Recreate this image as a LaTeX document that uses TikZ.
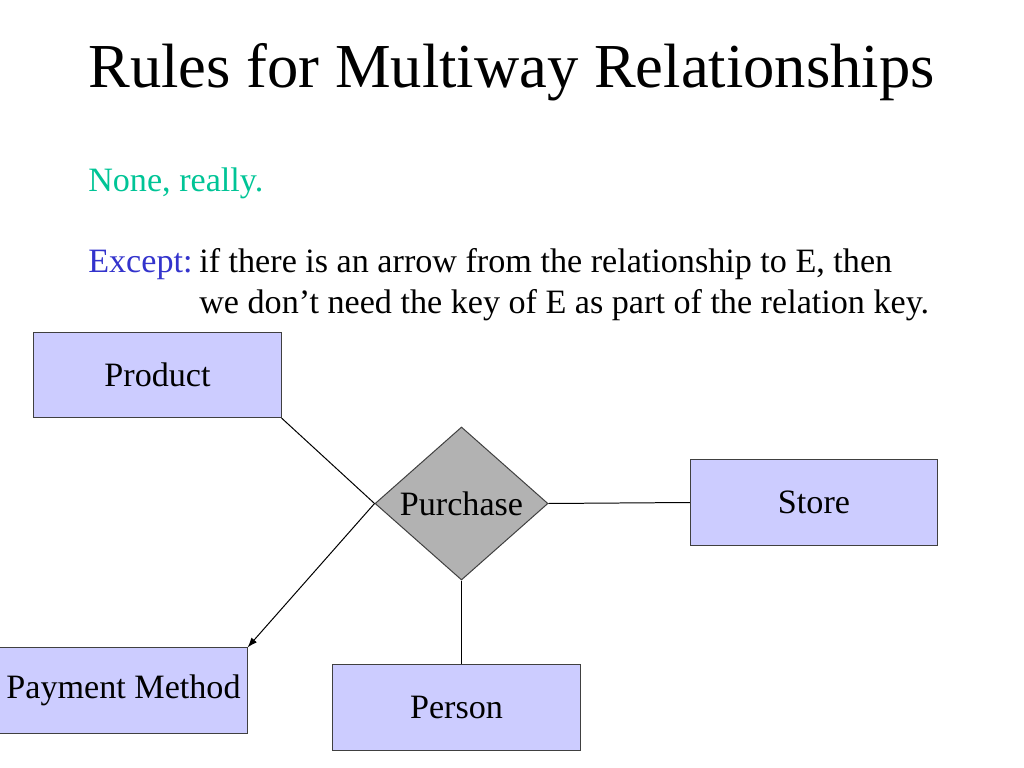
\documentclass[tikz,border=0pt]{standalone}
\usepackage{fontspec}
\setmainfont{Liberation Serif}
\usepackage{tikz}
\usetikzlibrary{shapes.geometric, arrows, arrows.meta, positioning, calc}
\definecolor{entityfill}{RGB}{204,204,255}
\definecolor{relfill}{RGB}{178,178,178}
\definecolor{nonegreen}{RGB}{0,196,150}
\definecolor{exceptblue}{RGB}{51,51,204}
\begin{document}
\begin{tikzpicture}[
    x=0.703125pt, y=-0.703125pt,
    entity/.style={rectangle, draw=black!75, line width=0.7pt, fill=entityfill, minimum width=173.7pt, minimum height=59.8pt, inner sep=0pt, font=\fontsize{24}{28}\selectfont},
    relation/.style={diamond, aspect=1.13, draw=black!75, line width=0.7pt, fill=relfill, minimum width=121.6pt, minimum height=107.6pt, inner sep=0pt, font=\fontsize{24}{28}\selectfont},
    textline/.style={anchor=base west, inner sep=0pt, font=\fontsize{24}{28}\selectfont},
    link/.style={line width=0.7pt},
    arrow/.style={-{Latex[length=7pt, width=5pt]}, line width=0.7pt}
]
    \useasboundingbox (0,0) rectangle (1024,768);

    % Title
    \node [anchor=base west, inner sep=0pt, font=\fontsize{44}{50}\selectfont] (title) at (88,88) {Rules for Multiway Relationships};

    % Text
    \node [textline, text=nonegreen] (none) at (88,192) {None, really.};
    \node [textline, text=exceptblue] (except) at (88,273) {Except:};
    \node [textline] (line1) at (199,273) {if there is an arrow from the relationship to E, then};
    \node [textline] (line2) at (199,314) {we don’t need the key of E as part of the relation key.};

    % Entities
    \node [entity] (product) at (157.5,375) {Product};
    \node [entity] (store) at (814,502.5) {Store};
    \node [entity] (payment) at (123.5,690.5) {Payment Method};
    \node [entity] (person) at (456.5,707.5) {Person};

    % Relationship
    \node [relation] (purchase) at (461.5,503.5) {Purchase};

    % Connections
    \draw [link] (product.south east) -- (purchase.west);
    \draw [link] (purchase.east) -- (store.west);
    \draw [link] (purchase.south) -- (purchase.south |- person.north);
    \draw [arrow] (purchase.west) -- (payment.north east);

\end{tikzpicture}
\end{document}
